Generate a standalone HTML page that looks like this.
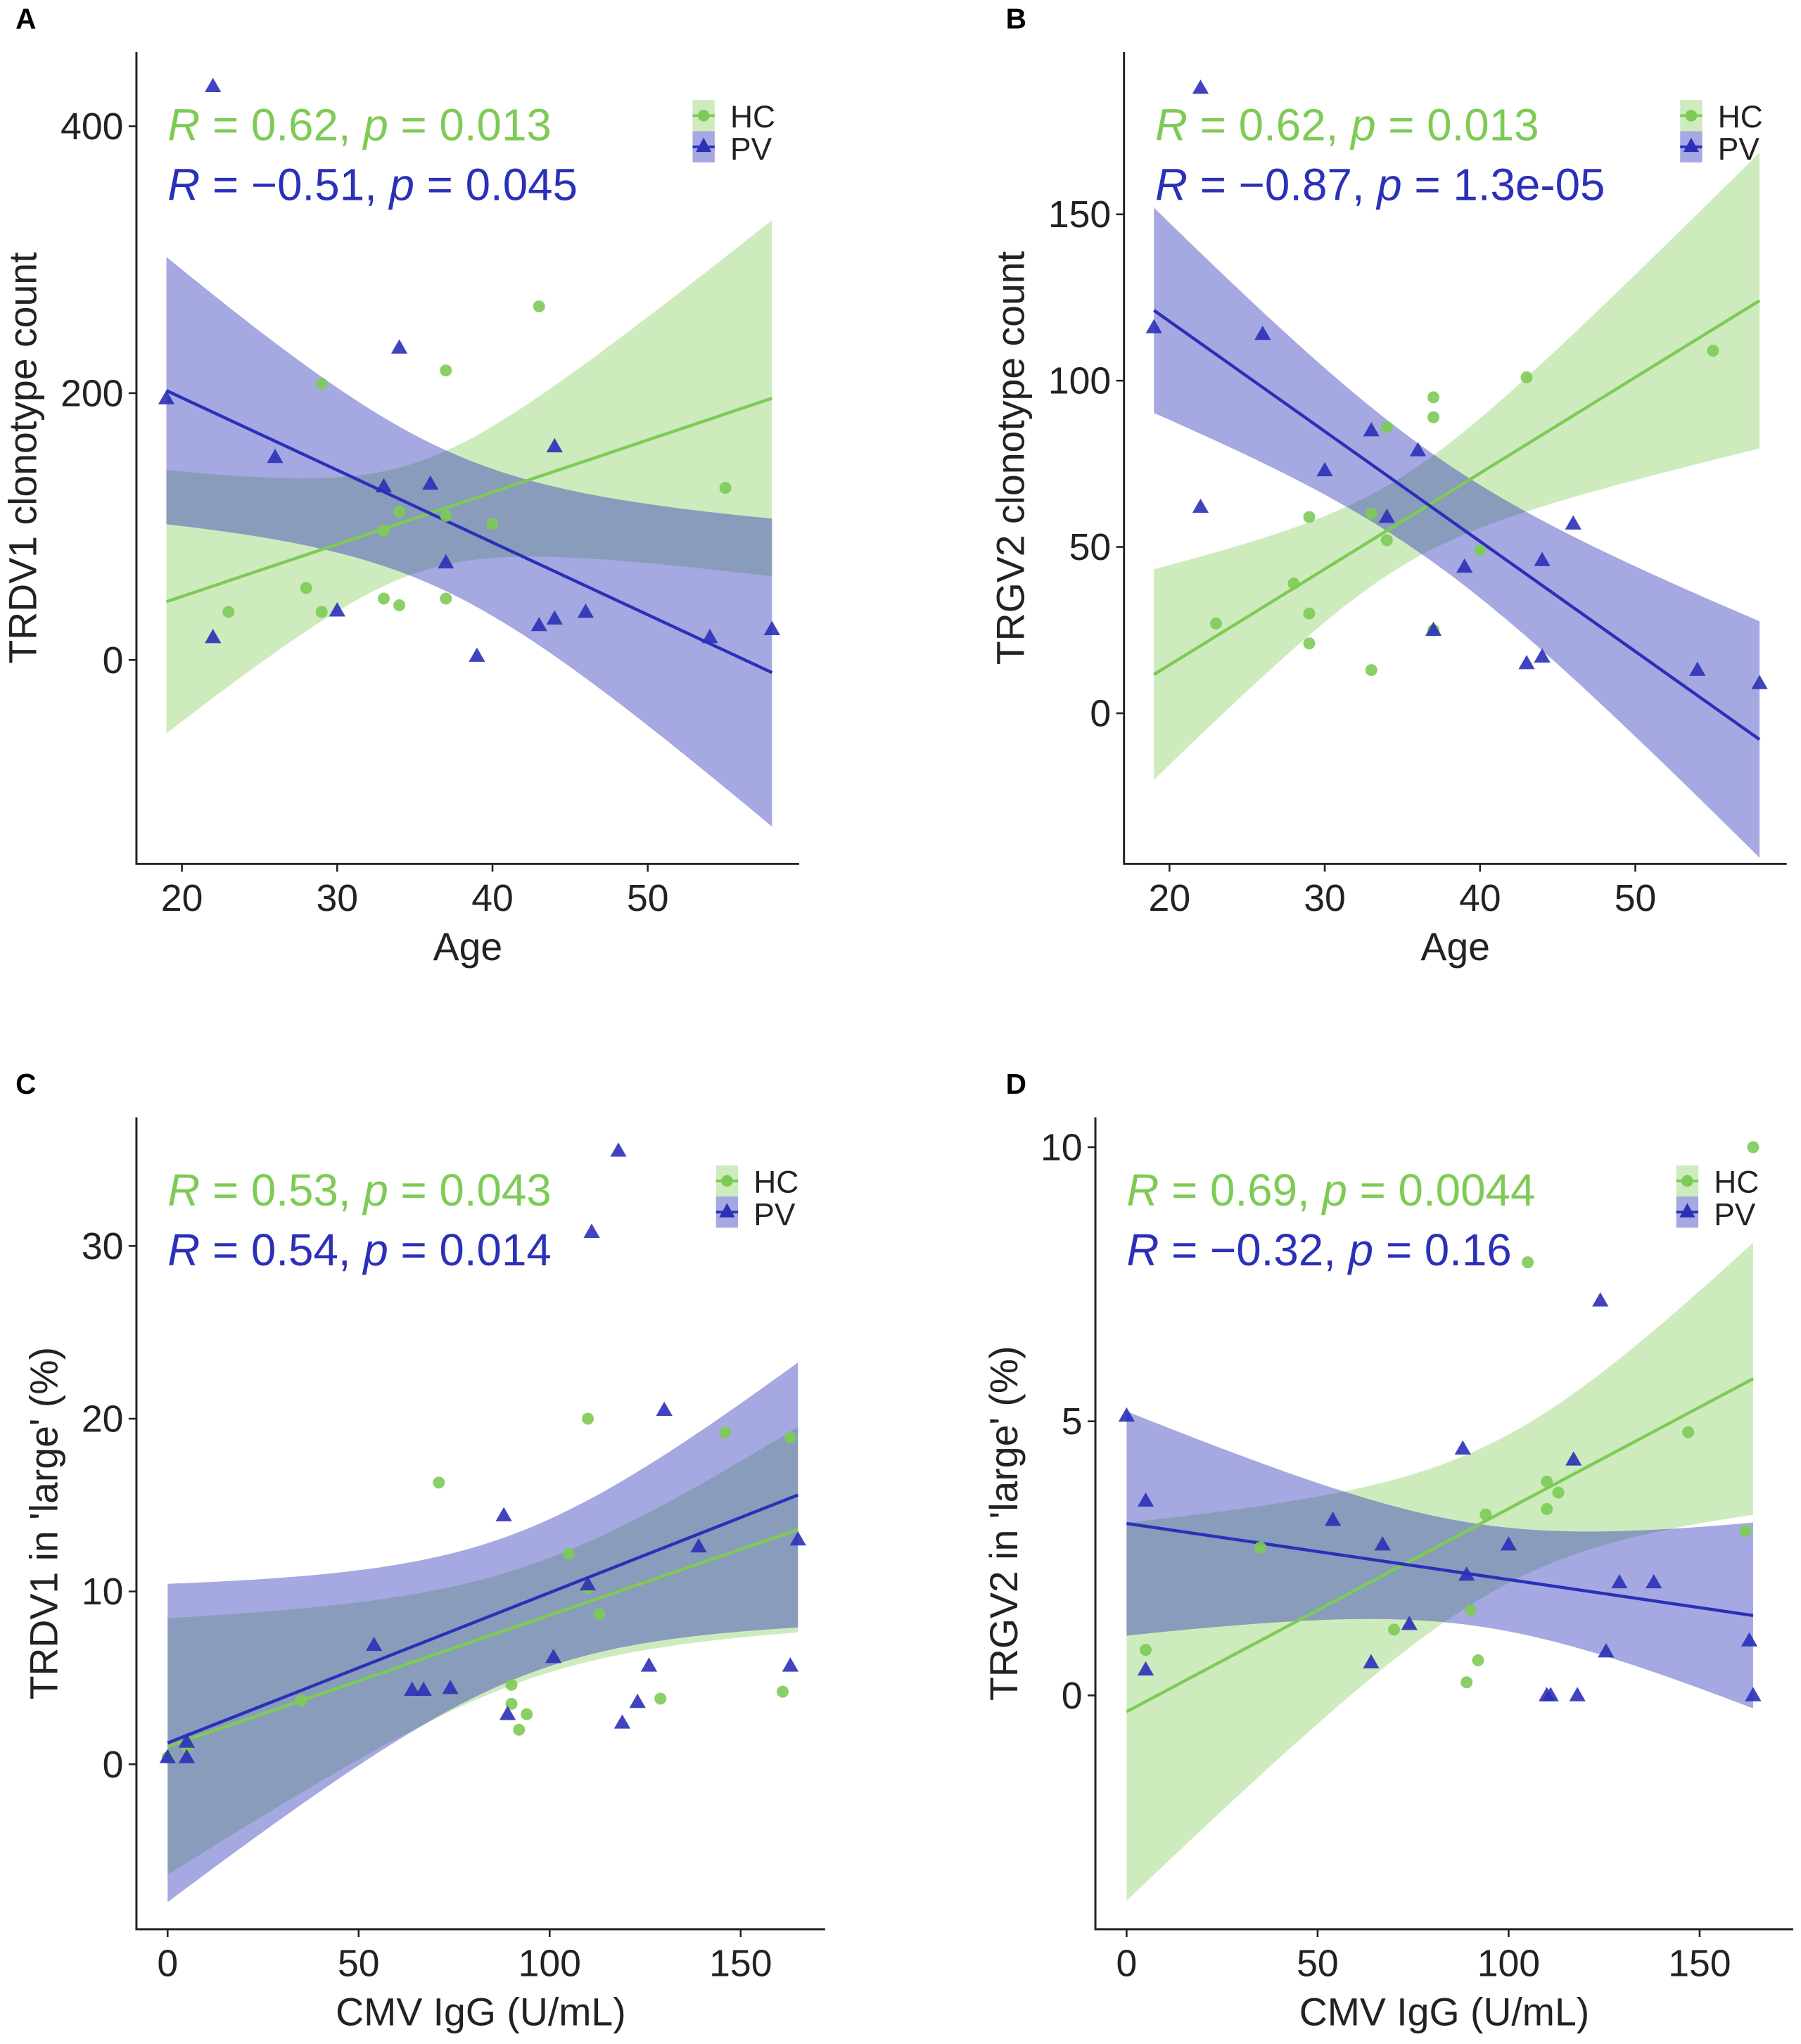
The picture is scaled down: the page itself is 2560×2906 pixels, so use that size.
<!DOCTYPE html>
<html><head><meta charset="utf-8">
<style>
html,body{margin:0;padding:0;background:#fff;}
svg{display:block;font-family:"Liberation Sans",Arial,sans-serif;}
</style></head>
<body>
<svg id="fig" width="2560" height="2906" viewBox="0 0 1386 1573.3" preserveAspectRatio="none" xmlns="http://www.w3.org/2000/svg"></svg>
<script>
// ---- Panel A: Age vs TRDV1 clonotype count ----
const aHCx = [23,28,29,29,33,33,34,34,37,37,37,40,43,55];
const aHCy = [36,54,207,36,46,97,111,41,217,46,108,102,265,129];
const aPVx = [22,19,22,26,30,33,34,36,37,39,43,44,44,46,54,58];
const aPVy = [430,196,17,152,37,130,234,132,73,3,26,31,160,36,17,23];
const aXTicks = [20,30,40,50];
const aYTicks = [0,200,400];
// ---- Panel B: Age vs TRGV2 clonotype count ----
const bHCx = [23,28,29,29,29,33,33,34,34,37,37,37,40,43,55];
const bHCy = [27,39,59,30,21,13,60,86,52,95,89,25,49,101,109];
const bPVx = [22,19,22,26,30,33,34,36,37,39,43,44,44,46,54,58];
const bPVy = [188,116,62,114,73,85,59,79,25,44,15,46,17,57,13,9];
const bXTicks = [20,30,40,50];
const bYTicks = [0,50,100,150];
// ---- Panel C: CMV IgG vs TRDV1 in large ----
const cHCx = [0,5,35,71,90,90,92,94,105,110,110,113,129,146,161,163];
const cHCy = [0.4,1.0,3.7,16.3,4.6,3.5,2.0,2.9,12.2,20,10.2,8.7,3.8,19.2,4.2,18.9];
const cPVx = [0,5,5,54,64,67,74,88,89,101,110,111,118,119,123,126,130,139,163,165];
const cPVy = [0.4,0.4,1.3,6.9,4.3,4.3,4.4,14.4,2.9,6.2,10.4,30.8,35.5,2.4,3.6,5.7,20.5,12.6,5.7,13];
const cXTicks = [0,50,100,150];
const cYTicks = [0,10,20,30];
// ---- Panel D: CMV IgG vs TRGV2 in large ----
const dHCx = [5,35,70,89,90,92,94,105,110,110,113,147,162,164];
const dHCy = [0.83,2.7,1.2,0.24,1.56,0.64,3.3,7.9,3.9,3.4,3.7,4.8,3.0,10];
const dPVx = [0,5,5,54,64,67,74,88,89,100,110,111,117,118,124,125.5,129,138,163,164];
const dPVy = [5.1,3.55,0.47,3.2,0.6,2.75,1.3,4.5,2.2,2.75,0,0,4.3,0,7.2,0.8,2.06,2.06,1.0,0];
const dXTicks = [0,50,100,150];
const dYTicks = [0,5,10];

const NS="http://www.w3.org/2000/svg";
const svg=document.getElementById('fig');
const GREEN="#7dcb55", BLUE="#2b30b8";
function mk(tag,attrs,parent){const e=document.createElementNS(NS,tag);for(const k in attrs)e.setAttribute(k,attrs[k]);(parent||svg).appendChild(e);return e;}

function fit(xs,ys){
  const n=xs.length;const mx=xs.reduce((a,b)=>a+b)/n,my=ys.reduce((a,b)=>a+b)/n;
  let sxx=0,sxy=0;for(let i=0;i<n;i++){sxx+=(xs[i]-mx)**2;sxy+=(xs[i]-mx)*(ys[i]-my);}
  const b=sxy/sxx,a=my-b*mx;let sse=0;for(let i=0;i<n;i++)sse+=(ys[i]-a-b*xs[i])**2;
  const s=Math.sqrt(sse/(n-2));const df=n-2,z=1.959964;
  const t=z+(z**3+z)/(4*df)+(5*z**5+16*z**3+3*z)/(96*df*df);
  return {a,b,n,mx,sxx,s,t};
}

function panel(p){
  const g=mk('g',{});
  
  
  const X=v=>p.x0+(v-p.xv0)*p.xs, Y=v=>p.y0-(v-p.yv0)*p.ys;
  const allx=p.hcx.concat(p.pvx);const lo=Math.min(...allx),hi=Math.max(...allx);
  const series=[{x:p.hcx,y:p.hcy,c:GREEN,name:'hc'},{x:p.pvx,y:p.pvy,c:BLUE,name:'pv'}];
  series.forEach(s=>{
    const f=fit(s.x,s.y);let up=[],dn=[];
    for(let i=0;i<=80;i++){const xv=lo+(hi-lo)*i/80;const yh=f.a+f.b*xv;
      const se=f.s*Math.sqrt(1/f.n+(xv-f.mx)**2/f.sxx);
      up.push(X(xv)+','+Y(yh+f.t*se));dn.unshift(X(xv)+','+Y(yh-f.t*se));}
    const band=mk('polygon',{points:up.concat(dn).join(' '),fill:s.c,'fill-opacity':s.name=='hc'?0.38:0.42},g);
    
    
    s.f=f;
  });
  series.forEach(s=>{
    const ln=mk('line',{x1:X(lo),y1:Y(s.f.a+s.f.b*lo),x2:X(hi),y2:Y(s.f.a+s.f.b*hi),stroke:s.c,'stroke-width':2.4},g);
    
    
  });
  p.hcx.forEach((v,i)=>{const c=mk('circle',{cx:X(v),cy:Y(p.hcy[i]),r:4.6,fill:GREEN,'fill-opacity':0.9},g);
    
    });
  p.pvx.forEach((v,i)=>{const cx=X(v),cy=Y(p.pvy[i]);
    const t=mk('polygon',{points:`${cx},${cy-6.5} ${cx-6.3},${cy+4.5} ${cx+6.3},${cy+4.5}`,fill:BLUE,'fill-opacity':0.9},g);
    
    });
  const ax=mk('path',{d:`M${p.ax},${p.atop} V${p.abot} H${p.aright}`,stroke:'#222',fill:'none','stroke-width':1.6},g);
  
  
  p.xt.forEach(v=>{mk('line',{x1:X(v),x2:X(v),y1:p.abot,y2:p.abot+6,stroke:'#222','stroke-width':1.4},g);
    const t=mk('text',{x:X(v),y:p.abot+36,'text-anchor':'middle','font-size':29,fill:'#222'},g);t.textContent=v;
    
    });
  p.yt.forEach(v=>{mk('line',{x1:p.ax-6,x2:p.ax,y1:Y(v),y2:Y(v),stroke:'#222','stroke-width':1.4},g);
    const t=mk('text',{x:p.ax-10,y:Y(v)+10,'text-anchor':'end','font-size':29,fill:'#222'},g);t.textContent=v;
    
    });
  const xt=mk('text',{x:(p.ax+p.aright)/2,y:p.abot+74,'text-anchor':'middle','font-size':30,fill:'#222'},g);xt.textContent=p.xlab;
  
  
  const yc=(p.atop+p.abot)/2;
  const yt=mk('text',{x:p.ylx,y:yc,'text-anchor':'middle','font-size':30,fill:'#222',transform:`rotate(-90 ${p.ylx} ${yc})`},g);yt.textContent=p.ylab;
  
  
  const L=mk('text',{x:p.lx-2,y:p.atop-18,'font-size':22,'font-weight':'bold',fill:'#000'},g);L.textContent=p.letter;
  
  
  [[p.s1,GREEN,0],[p.s2,BLUE,46]].forEach(([s,c,dy])=>{
    const t=mk('text',{x:p.ax+24,y:p.atop+68+dy,'font-size':34.5,fill:c},g);
    t.innerHTML=`<tspan font-style="italic">R</tspan> = ${s[0]}, <tspan font-style="italic">p</tspan> = ${s[1]}`;
    
    });
  const lg=mk('g',{},g);
  
  
  const kx=p.legx,ky=p.atop+37;
  mk('rect',{x:kx,y:ky,width:17,height:24,fill:GREEN,'fill-opacity':0.38},lg);
  mk('rect',{x:kx,y:ky+24,width:17,height:24,fill:BLUE,'fill-opacity':0.42},lg);
  mk('line',{x1:kx,x2:kx+17,y1:ky+12,y2:ky+12,stroke:GREEN,'stroke-width':2},lg);
  mk('line',{x1:kx,x2:kx+17,y1:ky+36,y2:ky+36,stroke:BLUE,'stroke-width':2},lg);
  mk('circle',{cx:kx+8.5,cy:ky+12,r:4.5,fill:GREEN},lg);
  mk('polygon',{points:`${kx+8.5},${ky+29} ${kx+2.5},${ky+40} ${kx+14.5},${ky+40}`,fill:BLUE},lg);
  const h=mk('text',{x:kx+29,y:ky+21,'font-size':24,fill:'#222'},lg);h.textContent='HC';
  
  
  const v=mk('text',{x:kx+29,y:ky+46,'font-size':24,fill:'#222'},lg);v.textContent='PV';
  
  
}

panel({letter:'A',lx:14,hcx:aHCx,hcy:aHCy,pvx:aPVx,pvy:aPVy,xt:aXTicks,yt:aYTicks,
  x0:140,xv0:20,xs:11.95,y0:508,yv0:0,ys:1.027,ax:105,atop:40,abot:665,aright:615,
  xlab:'Age',ylab:'TRDV1 clonotype count',ylx:28,s1:['0.62','0.013'],s2:['\u22120.51','0.045'],legx:533});
panel({letter:'B',lx:776,hcx:bHCx,hcy:bHCy,pvx:bPVx,pvy:bPVy,xt:bXTicks,yt:bYTicks,
  x0:900,xv0:20,xs:11.95,y0:549,yv0:0,ys:2.56,ax:865,atop:40,abot:665,aright:1375,
  xlab:'Age',ylab:'TRGV2 clonotype count',ylx:788,s1:['0.62','0.013'],s2:['\u22120.87','1.3e-05'],legx:1293});
panel({letter:'C',lx:14,hcx:cHCx,hcy:cHCy,pvx:cPVx,pvy:cPVy,xt:cXTicks,yt:cYTicks,
  x0:129,xv0:0,xs:2.94,y0:1358,yv0:0,ys:13.3,ax:105,atop:860,abot:1485,aright:635,
  xlab:'CMV IgG (U/mL)',ylab:"TRDV1 in 'large' (%)",ylx:44,s1:['0.53','0.043'],s2:['0.54','0.014'],legx:551});
panel({letter:'D',lx:776,hcx:dHCx,hcy:dHCy,pvx:dPVx,pvy:dPVy,xt:dXTicks,yt:dYTicks,
  x0:867,xv0:0,xs:2.94,y0:1305,yv0:0,ys:42.2,ax:843,atop:860,abot:1485,aright:1380,
  xlab:'CMV IgG (U/mL)',ylab:"TRGV2 in 'large' (%)",ylx:783,s1:['0.69','0.0044'],s2:['\u22120.32','0.16'],legx:1290});
</script>
</body></html>
